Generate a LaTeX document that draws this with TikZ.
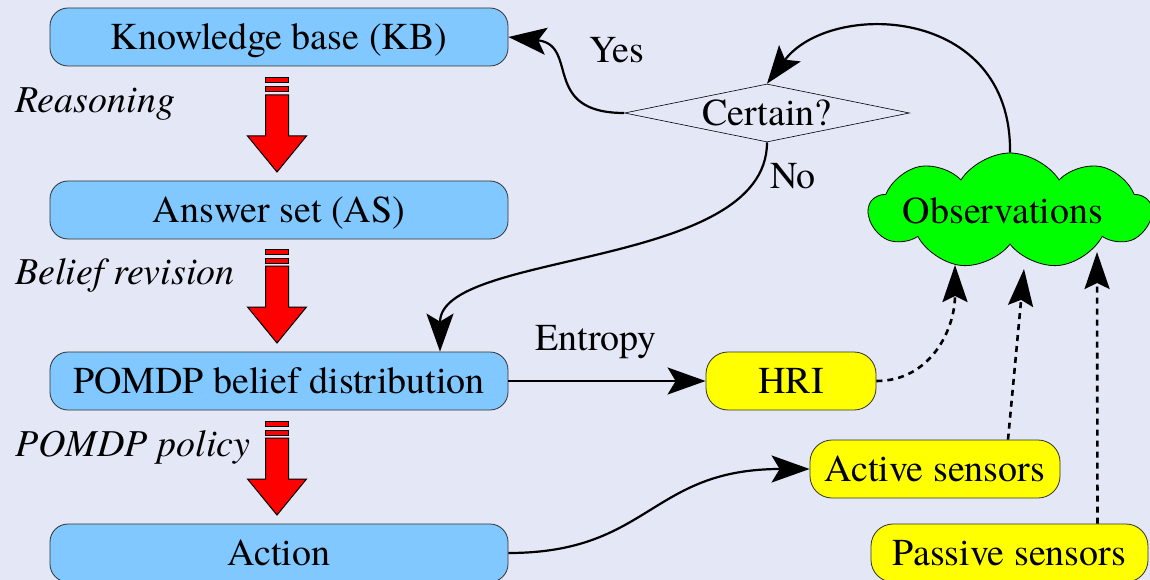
\documentclass[tikz,border=0pt]{standalone}
\usepackage{fontspec}
\setmainfont{texgyretermes}[Extension=.otf, UprightFont=*-regular, ItalicFont=*-italic, BoldFont=*-bold]
\usetikzlibrary{shapes.geometric,shapes.symbols,arrows.meta}
\definecolor{bgc}{RGB}{227,231,246}
\definecolor{boxblue}{RGB}{128,200,255}
\definecolor{boxyellow}{RGB}{255,255,0}
\definecolor{cloudgreen}{RGB}{0,255,0}
\definecolor{edgegray}{RGB}{50,50,50}
\tikzset{
  pics/redarr/.style={code={
    \draw[redarrow] (-11.5,0) rectangle (11.5,5);
    \draw[redarrow] (-11.5,9) rectangle (11.5,14);
    \draw[redarrow] (-11.5,17) -- (11.5,17) -- (11.5,58) -- (29.5,58) -- (0,94) -- (-29.5,58) -- (-11.5,58) -- cycle;
  }}
}
\begin{document}
\begin{tikzpicture}[x=1pt,y=-1pt,
  font=\fontsize{38}{44}\selectfont,
  bluebox/.style={draw=edgegray, line width=0.8pt, fill=boxblue, rounded corners=18pt,
    minimum width=458pt, minimum height=58pt, text height=30pt, text depth=5pt, inner sep=0pt},
  yellowbox/.style={draw=edgegray, line width=0.8pt, fill=boxyellow, rounded corners=22pt,
    minimum height=58pt, text height=30pt, text depth=5pt, inner sep=0pt},
  lbl/.style={inner sep=0pt, text height=30pt, text depth=5pt},
  link/.style={line width=2.2pt, -{Stealth[length=38pt,width=27pt,inset=8pt]}},
  dotlink/.style={line width=2.6pt, dash pattern=on 6pt off 5pt, -{Stealth[length=37pt,width=25pt,inset=6pt]}},
  redarrow/.style={fill=red, draw=black, line width=1pt}]
\fill[bgc] (0,0) rectangle (1150,580);
\useasboundingbox (0,0) rectangle (1150,580);

% left column
\node[bluebox] (kb) at (279,37) {Knowledge base (KB)};
\node[bluebox] (as) at (279,210) {Answer set (AS)};
\node[bluebox] (pb) at (279,381) {POMDP belief distribution};
\node[bluebox] (act) at (279,553) {Action};

\pic at (277,78) {redarr};
\pic at (277,249) {redarr};
\pic at (277,421) {redarr};

\node[lbl, anchor=west] (reas) at (15,100) {\itshape Reasoning};
\node[lbl, anchor=west] (brev) at (15,272) {\itshape Belief revision};
\node[lbl, anchor=west] (ppol) at (15,444) {\itshape POMDP policy};

% decision
\node[diamond, draw=black, line width=0.6pt, minimum width=285pt, minimum height=58pt, inner sep=0pt]
  (dia) at (767,113) {\raisebox{-12.5pt}[0pt][0pt]{\makebox[0pt]{Certain?}}};

% cloud
\node[cloud, draw=black, line width=0.8pt, fill=cloudgreen, cloud puffs=9, cloud puff arc=115,
  aspect=2.5, minimum width=282pt, minimum height=116pt, inner sep=0pt]
  (obs) at (1010,211) {\raisebox{-12.5pt}[0pt][0pt]{\makebox[0pt]{\hspace{-14pt}Observations}}};

% right boxes
\node[yellowbox, minimum width=170pt] (hri) at (791,381) {HRI};
\node[yellowbox, minimum width=250pt] (acs) at (935,469) {Active sensors};
\node[yellowbox, minimum width=277pt] (pas) at (1009.5,553) {Passive sensors};

% labels
\node[lbl] (yes) at (617,50) {Yes};
\node[lbl] (no) at (793,176) {No};
\node[lbl] (ent) at (596,338) {Entropy};

% connectors
\draw[link] (dia.west) .. controls (540,113) and (580,45) .. (kb.east);
\draw[link] (dia.south) .. controls (767,270) and (440,250) .. ([xshift=161pt]pb.north);
\draw[link] (obs.north) .. controls (1012,5) and (830,0) .. (dia.north);
\draw[link] (pb.east) -- (hri.west);
\draw[link] (act.east) .. controls (650,553) and (650,469) .. (acs.west);

\coordinate (o1) at (955,265);
\coordinate (o2) at (1024,269);
\coordinate (o3) at (1097,252);
\draw[dotlink] (hri.east) .. controls (930,381) and (955,330) .. (o1);
\draw[dotlink] ([xshift=73pt]acs.north) -- (o2);
\draw[dotlink] ([xshift=88pt]pas.north) -- (o3);
\end{tikzpicture}
\end{document}
